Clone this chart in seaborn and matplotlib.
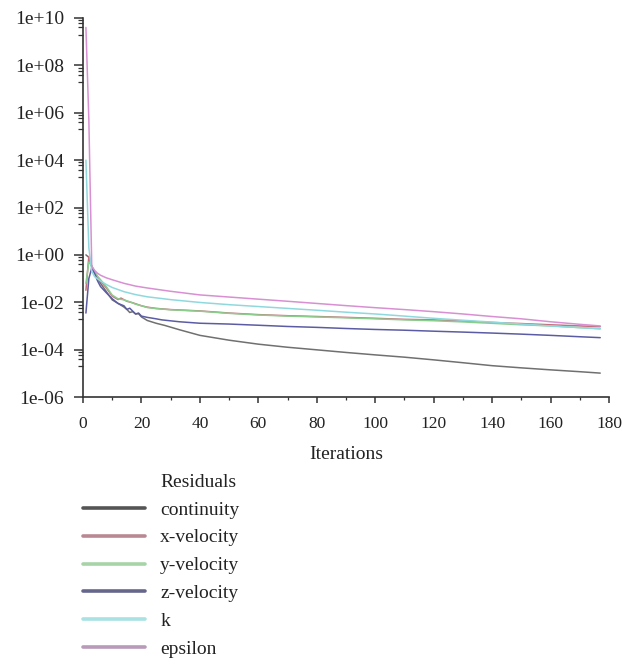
import numpy as np
import pandas as pd
import matplotlib
matplotlib.use("Agg")
import matplotlib.pyplot as plt
import matplotlib.ticker as mticker
from matplotlib.lines import Line2D
import seaborn as sns

# --- data ---
series_names = ["continuity", "x-velocity", "y-velocity", "z-velocity", "k", "epsilon"]

continuity_it = [1, 2, 3, 4, 5, 6, 8, 10, 12, 14, 15, 16, 17, 18, 19, 20, 22, 25, 28, 33, 40,
                 50, 60, 70, 80, 90, 100, 110, 120, 130, 140, 150, 160, 170, 177]
continuity_val = [1.0, 0.79, 0.32, 0.18, 0.1, 0.063, 0.028, 0.0126, 8.9e-3, 6.3e-3, 5.0e-3, 3.7e-3,
                  4.0e-3, 3.2e-3, 3.3e-3, 2.4e-3, 1.7e-3, 1.3e-3, 1.05e-3, 6.9e-4, 4.0e-4,
                  2.5e-4, 1.7e-4, 1.26e-4, 9.8e-5, 7.6e-5, 6.0e-5, 4.8e-5, 3.7e-5, 2.8e-5,
                  2.1e-5, 1.7e-5, 1.4e-5, 1.17e-5, 1.02e-5]

xvel_it = [1, 2, 3, 4, 5, 6, 8, 10, 12, 13, 15, 17, 20, 22, 25, 30, 40, 50, 60, 70, 80, 90,
           100, 110, 120, 130, 140, 150, 160, 170, 177]
xvel_val = [0.032, 0.85, 0.32, 0.18, 0.11, 0.079, 0.04, 0.018, 0.013, 0.015, 0.011, 9.5e-3,
            7.1e-3, 6.2e-3, 5.5e-3, 4.9e-3, 4.3e-3, 3.5e-3, 3.0e-3, 2.7e-3, 2.5e-3, 2.3e-3,
            2.1e-3, 1.9e-3, 1.8e-3, 1.6e-3, 1.4e-3, 1.26e-3, 1.12e-3, 1.0e-3, 9.3e-4]

yvel_it = [1, 2, 3, 4, 5, 6, 8, 10, 12, 14, 16, 18, 20, 22, 25, 30, 40, 50, 60, 70, 80, 90,
           100, 110, 120, 130, 140, 150, 160, 170, 177]
yvel_val = [0.063, 0.5, 0.35, 0.2, 0.126, 0.089, 0.045, 0.02, 0.014, 0.0126, 0.0105, 8.3e-3,
            7.1e-3, 6.0e-3, 5.4e-3, 4.8e-3, 4.2e-3, 3.4e-3, 2.9e-3, 2.6e-3, 2.4e-3, 2.2e-3,
            2.0e-3, 1.8e-3, 1.66e-3, 1.48e-3, 1.29e-3, 1.12e-3, 1.0e-3, 8.5e-4, 7.6e-4]

zvel_it = [1, 2, 3, 4, 5, 6, 8, 10, 12, 14, 15, 16, 18, 19, 20, 22, 25, 27, 33, 40, 50, 60,
           70, 80, 90, 100, 110, 120, 130, 140, 150, 160, 170, 177]
zvel_val = [3.5e-3, 0.1, 0.28, 0.16, 0.079, 0.046, 0.025, 0.014, 8.9e-3, 7.1e-3, 5.0e-3, 5.6e-3,
            3.2e-3, 3.5e-3, 2.6e-3, 2.3e-3, 2.0e-3, 1.8e-3, 1.5e-3, 1.3e-3, 1.2e-3, 1.07e-3,
            9.5e-4, 8.7e-4, 7.8e-4, 7.1e-4, 6.6e-4, 6.0e-4, 5.5e-4, 5.0e-4, 4.5e-4, 4.0e-4,
            3.5e-4, 3.2e-4]

k_it = [1, 2, 3, 4, 6, 8, 10, 14, 18, 22, 26, 30, 40, 50, 60, 70, 80, 90, 100, 110, 120,
        130, 140, 150, 160, 170, 177]
k_val = [1.0e4, 2.0, 0.2, 0.12, 0.079, 0.056, 0.042, 0.028, 0.021, 0.017, 0.0148, 0.0129,
         9.8e-3, 7.9e-3, 6.6e-3, 5.5e-3, 4.6e-3, 3.8e-3, 3.2e-3, 2.6e-3, 2.1e-3, 1.74e-3,
         1.45e-3, 1.2e-3, 1.0e-3, 8.5e-4, 7.6e-4]

eps_it = [1, 2, 3, 4, 5, 6, 8, 10, 14, 18, 22, 26, 30, 40, 50, 60, 70, 80, 90, 100, 110,
          120, 130, 140, 150, 160, 170, 177]
eps_val = [4.0e9, 5.0e5, 0.32, 0.22, 0.166, 0.138, 0.107, 0.089, 0.063, 0.048, 0.04, 0.034,
           0.029, 0.0204, 0.0166, 0.0135, 0.011, 8.9e-3, 7.2e-3, 5.9e-3, 4.9e-3, 4.0e-3,
           3.2e-3, 2.5e-3, 2.0e-3, 1.5e-3, 1.17e-3, 1.0e-3]

x_ticks = [0, 20, 40, 60, 80, 100, 120, 140, 160, 180]
y_ticks = [1e-6, 1e-4, 1e-2, 1e0, 1e2, 1e4, 1e6, 1e8, 1e10]
y_tick_labels = ["1e-06", "1e-04", "1e-02", "1e+00", "1e+02", "1e+04", "1e+06", "1e+08", "1e+10"]

line_colors = ["#707070", "#c4707f", "#8ccc8c", "#5c5ca4", "#8fd9de", "#d890d2"]
legend_colors = ["#555555", "#b98893", "#a6d4a6", "#66668c", "#a8e2e2", "#b99ab9"]

frames = []
for name, its, vals in zip(series_names,
                           [continuity_it, xvel_it, yvel_it, zvel_it, k_it, eps_it],
                           [continuity_val, xvel_val, yvel_val, zvel_val, k_val, eps_val]):
    frames.append(pd.DataFrame({"Iterations": its, "Residual": vals, "series": name}))
df = pd.concat(frames, ignore_index=True)

sns.set_style("ticks")
plt.rcParams["font.family"] = ["Liberation Serif", "DejaVu Serif"]

fig = plt.figure(figsize=(6.22, 6.67), dpi=100)
ax = fig.add_axes([83 / 622, 1 - 397 / 667, (609 - 83) / 622, (397 - 18) / 667])

sns.lineplot(data=df, x="Iterations", y="Residual", hue="series", hue_order=series_names,
             palette=dict(zip(series_names, line_colors)), estimator=None, sort=False,
             linewidth=1.1, legend=False, ax=ax)

ax.set_yscale("log")
ax.set_xlim(0, 180)
ax.set_ylim(1e-6, 1e10)
ax.set_xticks(x_ticks)
ax.xaxis.set_minor_locator(mticker.MultipleLocator(10))
ax.yaxis.set_major_locator(mticker.FixedLocator(y_ticks))
ax.yaxis.set_major_formatter(mticker.FixedFormatter(y_tick_labels))
minor_y = [m * t / 10 for t in y_ticks[1:] for m in (2, 4, 6, 8)]
ax.yaxis.set_minor_locator(mticker.FixedLocator(minor_y))
ax.yaxis.set_minor_formatter(mticker.NullFormatter())

ax.tick_params(axis="both", which="major", width=1.1, color="#333333", labelcolor="#222222")
ax.tick_params(axis="y", which="major", labelsize=14, length=6.5, pad=7)
ax.tick_params(axis="y", which="minor", length=3.5, width=0.9, color="#333333")
ax.tick_params(axis="x", which="major", labelsize=12.5, length=4, pad=10)
ax.tick_params(axis="x", which="minor", length=2.5, width=0.9, color="#333333")
ax.set_xlabel("Iterations", fontsize=14, color="#222222", labelpad=10)
ax.set_ylabel("")

sns.despine(ax=ax)
for side in ["left", "bottom"]:
    ax.spines[side].set_linewidth(1.2)
    ax.spines[side].set_color("#333333")

handles = [Line2D([], [], color="none")]
handles += [Line2D([], [], color=c, linewidth=2.6) for c in legend_colors]
labels = ["Residuals"] + series_names
leg = fig.legend(handles, labels, loc="upper left", bbox_to_anchor=(83 / 622, 1 - 473 / 667),
                 frameon=False, fontsize=14, handlelength=3.2, handletextpad=0.77,
                 labelspacing=0.53, borderpad=0, borderaxespad=0)
for t in leg.get_texts():
    t.set_color("#222222")

fig.savefig("out.png", dpi=100)
